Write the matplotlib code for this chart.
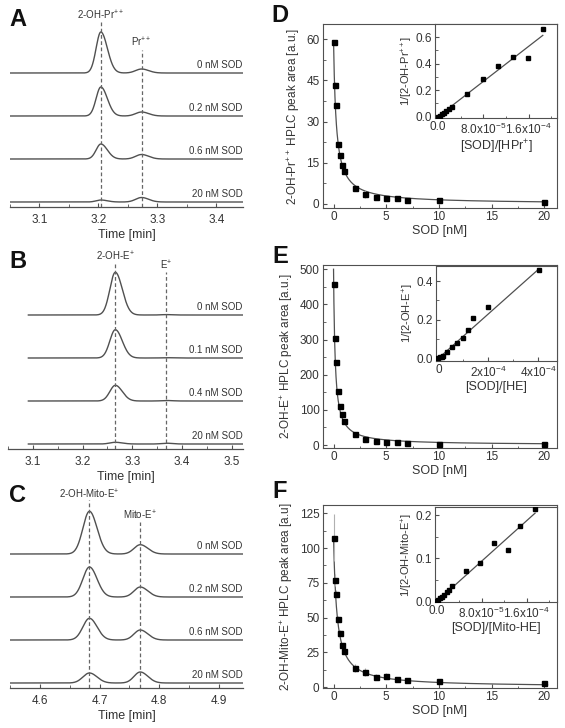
import numpy as np
import matplotlib
matplotlib.use("Agg")
import matplotlib.pyplot as plt

plt.rcParams['font.family'] = ['Liberation Sans', 'DejaVu Sans']
plt.rcParams['mathtext.fontset'] = 'custom'
plt.rcParams['mathtext.rm'] = 'Liberation Sans'
plt.rcParams['mathtext.it'] = 'Liberation Sans:italic'
plt.rcParams['mathtext.default'] = 'regular'

# ---------------- chromatograms (peak retention times / heights) ----------------
a_trace_labels = ['0 nM SOD', '0.2 nM SOD', '0.6 nM SOD', '20 nM SOD']
a_peak_names = ['2-OH-Pr$^{++}$', 'Pr$^{++}$']
a_rt = [3.204, 3.273]
a_h1 = [41, 29, 15, 2]
a_h2 = [4, 4, 4.5, 4.5]

b_trace_labels = ['0 nM SOD', '0.1 nM SOD', '0.4 nM SOD', '20 nM SOD']
b_peak_names = ['2-OH-E$^{+}$', 'E$^{+}$']
b_rt = [3.266, 3.369]
b_h1 = [42.7, 28.3, 15.7, 1.7]
b_h2 = [0.4, 0.3, 0.5, 0.8]

c_trace_labels = ['0 nM SOD', '0.2 nM SOD', '0.6 nM SOD', '20 nM SOD']
c_peak_names = ['2-OH-Mito-E$^{+}$', 'Mito-E$^{+}$']
c_rt = [4.683, 4.768]
c_h1 = [42.7, 30, 21.7, 10]
c_h2 = [9.3, 10, 10, 11]

# ---------------- SOD titration ----------------
sod = [0, 0.1, 0.2, 0.4, 0.6, 0.8, 1, 2, 3, 4, 5, 6, 7, 10, 20]
d_area = [59.2, 43.5, 36.0, 22.0, 17.8, 14.0, 12.0, 5.8, 3.5, 2.6, 2.2, 2.3, 1.5, 1.4, 0.7]
d_err = [0.6, 0.8, 0.8, 0.5, 0.5, 0.5, 0.5, 0.6, 1.5, 0.8, 0.5, 0.5, 0.4, 0.3, 0.3]
e_area = [458, 304, 237, 155, 111, 88, 69, 30, 17, 12, 9, 8, 6, 3, 2]
e_err = [3, 3, 3, 2, 2, 2, 2, 2, 1, 1, 1, 1, 1, 1, 1]
f_area = [107.5, 77, 67, 49, 39, 30, 26, 13.5, 11, 7.5, 8, 5.5, 5, 4, 3]
f_err = [17, 4, 3, 2, 2, 2, 2, 3, 3, 2, 2, 1.5, 1.5, 1.5, 1]
# hyperbolic fits A/(1+k*[SOD])
d_fit = (59.5, 3.9)
e_fit = (500, 6.7)
f_fit = (108, 3.2)

# ---------------- insets (1/area vs [SOD]/[probe]) ----------------
d_ins_x = [0, 3e-6, 6.6e-6, 1.0e-5, 1.5e-5, 2.0e-5, 2.5e-5, 5.2e-5, 7.9e-5, 1.06e-4, 1.32e-4, 1.59e-4, 1.85e-4]
d_ins_y = [0.0, 0.008, 0.02, 0.03, 0.043, 0.055, 0.07, 0.168, 0.283, 0.384, 0.451, 0.444, 0.66]
d_ins_slope = 3320

e_ins_x = [0, 6.7e-6, 1.3e-5, 2.0e-5, 3.6e-5, 5.6e-5, 7.6e-5, 9.7e-5, 1.2e-4, 1.4e-4, 2.0e-4, 4.03e-4]
e_ins_y = [0.0, 0.005, 0.009, 0.014, 0.031, 0.057, 0.078, 0.107, 0.145, 0.207, 0.267, 0.455]
e_ins_slope = 1150

f_ins_x = [0, 3e-6, 6e-6, 9.5e-6, 1.3e-5, 1.8e-5, 2.25e-5, 2.8e-5, 5.2e-5, 7.7e-5, 1.02e-4, 1.26e-4, 1.49e-4, 1.75e-4]
f_ins_y = [0.0015, 0.0046, 0.0077, 0.0115, 0.0154, 0.021, 0.027, 0.035, 0.071, 0.089, 0.136, 0.119, 0.175, 0.214]
f_ins_slope = 1170

W, H = 565, 728
fig = plt.figure(figsize=(W / 100, H / 100), dpi=100)
GRAY = '#505050'
TXT = '#333333'


def add_ax(l, t, r, b):
    return fig.add_axes([l / W, 1 - b / H, (r - l) / W, (b - t) / H])


def peak(t, rt, h, sl, sr):
    s = np.where(t < rt, sl, sr)
    return h * np.exp(-0.5 * ((t - rt) / s) ** 2)


def chromatogram(ax, xlim, ticks, rt, h1, h2, w1, w2, names, labels, line_tops, label_ys):
    t = np.linspace(xlim[0], xlim[1], 800)
    for i in range(4):
        base = 5 + 43 * (3 - i)
        y = base + peak(t, rt[0], h1[i], *w1) + peak(t, rt[1], h2[i], *w2)
        ax.plot(t, y, color=GRAY, lw=1.0)
        ax.text(xlim[1] - 0.001, base + 3, labels[i], ha='right', va='bottom', fontsize=7, color=TXT)
    for k in range(2):
        ax.plot([rt[k], rt[k]], [0, line_tops[k]], color='#666666', lw=0.9, ls=(0, (3, 2)))
        ax.text(rt[k], label_ys[k], names[k], ha='center', va='center', fontsize=7, color=TXT)
    ax.set_xlim(xlim)
    ax.set_ylim(0, 202)
    for s in ['top', 'left', 'right']:
        ax.spines[s].set_visible(False)
    ax.spines['bottom'].set_color(GRAY)
    ax.spines['bottom'].set_linewidth(0.9)
    ax.set_yticks([])
    ax.set_xticks(ticks)
    ax.set_xticks(np.arange(ticks[0] - 0.05, xlim[1], 0.05), minor=True)
    ax.tick_params(axis='x', which='both', direction='in', colors=GRAY, labelcolor=TXT,
                   labelsize=8.5, pad=5)
    ax.tick_params(axis='x', which='major', length=3)
    ax.tick_params(axis='x', which='minor', length=2)
    ax.set_xlabel('Time [min]', fontsize=9, color=TXT, labelpad=2)
    ax.patch.set_alpha(0)


def style_box(ax, size=8.5):
    for s in ax.spines.values():
        s.set_color(GRAY)
        s.set_linewidth(0.8)
    ax.tick_params(which='both', direction='in', colors=GRAY, labelcolor=TXT, labelsize=size,
                   pad=2.5, top=False, right=False)
    ax.tick_params(which='major', length=3)
    ax.tick_params(which='minor', length=1.8)


def titration(ax, y, err, fit, ylim, yticks, ylabel):
    xs = np.linspace(0, 20.3, 600)
    ax.plot(xs, fit[0] / (1 + fit[1] * xs), color=GRAY, lw=0.9, zorder=2)
    ax.errorbar(sod, y, yerr=err, fmt='s', ms=3.6, color='black', ecolor='#b0b0b0',
                elinewidth=0.8, capsize=0, zorder=3)
    ax.set_xlim(-1, 21.2)
    ax.set_ylim(ylim)
    ax.set_xticks([0, 5, 10, 15, 20])
    ax.set_xticks(np.arange(0, 21, 2.5), minor=True)
    ax.set_yticks(yticks)
    ax.set_yticks(np.arange(yticks[0], yticks[-1] + 1e-9, (yticks[1] - yticks[0]) / 2), minor=True)
    style_box(ax)
    ax.set_xlabel('SOD [nM]', fontsize=9, color=TXT, labelpad=1)
    ax.set_ylabel(ylabel, fontsize=8.5, color=TXT, labelpad=3)


def inset(ax, x, y, slope, xlim, ylim, xticks, xticklabels, yticks, yticklabels, xlabel, ylabel):
    xe = np.array([0, max(x)])
    ax.plot(xe, slope * xe, color=GRAY, lw=0.9, zorder=2)
    ax.plot(x, y, 's', ms=3.4, color='black', zorder=3)
    ax.set_xlim(xlim)
    ax.set_ylim(ylim)
    ax.set_xticks(xticks)
    ax.set_xticklabels(xticklabels)
    ax.set_yticks(yticks)
    ax.set_yticklabels(yticklabels)
    dx = xticks[1] - xticks[0]
    ax.set_xticks(np.arange(0, xlim[1], dx / 2), minor=True)
    dy = yticks[1] - yticks[0]
    ax.set_yticks(np.arange(0, ylim[1], dy / 2), minor=True)
    style_box(ax)
    ax.set_xlabel(xlabel, fontsize=9, color=TXT, labelpad=1)
    ax.set_ylabel(ylabel, fontsize=8, color=TXT, labelpad=0)


# chromatogram panels
axA = add_ax(10, 5, 243, 207)
chromatogram(axA, (3.051, 3.445), [3.1, 3.2, 3.3, 3.4], a_rt, a_h1, a_h2,
             (0.008, 0.011), (0.010, 0.012), a_peak_names, a_trace_labels, (185, 157), (192, 165))
axB = add_ax(8, 247, 243, 449)
chromatogram(axB, (3.091, 3.523), [3.1, 3.2, 3.3, 3.4, 3.5], b_rt, b_h1, b_h2,
             (0.011, 0.014), (0.010, 0.012), b_peak_names, b_trace_labels, (186, 177), (193, 184))
axC = add_ax(10, 486, 243, 688)
chromatogram(axC, (4.551, 4.94), [4.6, 4.7, 4.8, 4.9], c_rt, c_h1, c_h2,
             (0.011, 0.0127), (0.0104, 0.0127), c_peak_names, c_trace_labels, (188, 166), (194, 173))

# titration panels
axD = add_ax(323, 24, 557, 208)
titration(axD, d_area, d_err, d_fit, (-1.5, 65.6), [0, 15, 30, 45, 60],
          '2-OH-Pr$^{++}$ HPLC peak area [a.u.]')
axE = add_ax(323, 265, 557, 448)
titration(axE, e_area, e_err, e_fit, (-8.5, 512), [0, 100, 200, 300, 400, 500],
          '2-OH-E$^{+}$ HPLC peak area [a.u.]')
axF = add_ax(323, 505, 557, 688)
titration(axF, f_area, f_err, f_fit, (-0.7, 131), [0, 25, 50, 75, 100, 125],
          '2-OH-Mito-E$^{+}$ HPLC peak area [a.u]')

insD = add_ax(435, 24, 557, 118)
inset(insD, d_ins_x, d_ins_y, d_ins_slope, (-5e-6, 2.1e-4), (-0.01, 0.70),
      [0, 8e-5, 1.6e-4], ['0.0', '8.0x10$^{-5}$', '1.6x10$^{-4}$'],
      [0, 0.2, 0.4, 0.6], ['0.0', '0.2', '0.4', '0.6'],
      '[SOD]/[HPr$^{+}$]', '1/[2-OH-Pr$^{++}$]')
insE = add_ax(436, 266, 557, 361)
inset(insE, e_ins_x, e_ins_y, e_ins_slope, (-1e-5, 4.75e-4), (-0.014, 0.478),
      [0, 2e-4, 4e-4], ['0', '2x10$^{-4}$', '4x10$^{-4}$'],
      [0, 0.2, 0.4], ['0.0', '0.2', '0.4'],
      '[SOD]/[HE]', '1/[2-OH-E$^{+}$]')
insF = add_ax(435, 507, 557, 602)
inset(insF, f_ins_x, f_ins_y, f_ins_slope, (-3e-6, 2.14e-4), (-0.001, 0.219),
      [0, 8e-5, 1.6e-4], ['0.0', '8.0x10$^{-5}$', '1.6x10$^{-4}$'],
      [0, 0.1, 0.2], ['0.0', '0.1', '0.2'],
      '[SOD]/[Mito-HE]', '1/[2-OH-Mito-E$^{+}$]')

# panel letters
for letter, x, y in [('A', 18, 19), ('B', 18, 261), ('C', 18, 496),
                     ('D', 280, 15), ('E', 280, 256), ('F', 280, 491)]:
    fig.text(x / W, 1 - y / H, letter, fontsize=17, fontweight='bold',
             ha='center', va='center', color='#111111')

fig.savefig('out.png', dpi=100)
